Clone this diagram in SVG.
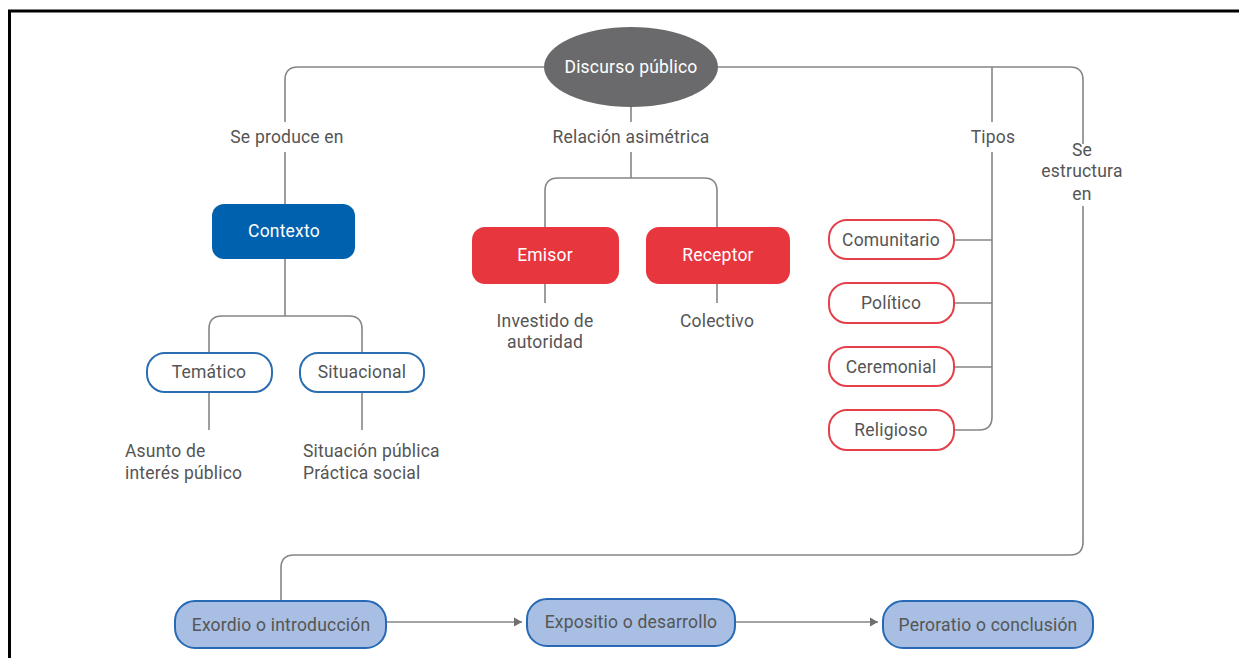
<svg xmlns="http://www.w3.org/2000/svg" width="1239" height="658" viewBox="0 0 1239 658">
<defs>
<marker id="arr" markerWidth="10" markerHeight="10" refX="8" refY="5" orient="auto" markerUnits="userSpaceOnUse">
<path d="M0,0.5 L8,5 L0,9.5 Z" fill="#6f6f6f"/>
</marker>
<style>
text{font-family:Roboto,"Liberation Sans",sans-serif;font-size:17.5px;letter-spacing:0.2px;fill:#555555;}
.c{text-anchor:middle;}
.w{fill:#ffffff;}
.ln{fill:none;stroke:#858585;stroke-width:1.6;}
.blue{fill:#0062ae;}
.red{fill:#e8363f;}
.rbox{fill:#ffffff;stroke:#e5404a;stroke-width:2;}
.bbox{fill:#ffffff;stroke:#2a6db0;stroke-width:2;}
.sbox{fill:#a8bee2;stroke:#2769b5;stroke-width:2;}
</style>
</defs>
<rect width="1239" height="658" fill="#ffffff"/>
<path d="M9.5,660 V11 H1240" fill="none" stroke="#000000" stroke-width="3"/>

<g id="connectors">
<path class="ln" d="M545,67 H298 Q285,67 285,80 V122 M285,152 V204"/>
<path class="ln" d="M718,67 H1070 Q1083,67 1083,80 V144 M1083,206 V542 Q1083,555 1070,555 H294 Q281,555 281,568 V601"/>
<path class="ln" d="M992,67 V122 M992,152 V417 Q992,430 979,430 H954 M954,240 H992 M954,303 H992 M954,367 H992"/>
<path class="ln" d="M631,107 V122 M631,152 V178 M545,227 V191 Q545,178 558,178 H704 Q717,178 717,191 V227"/>
<path class="ln" d="M285,259 V316 M209,353 V329 Q209,316 222,316 H349 Q362,316 362,329 V353"/>
<path class="ln" d="M209,392 V430 M362,392 V430 M545,284 V303 M717,284 V303"/>
<path class="ln" d="M386,622 H522" marker-end="url(#arr)"/>
<path class="ln" d="M735,622 H878" marker-end="url(#arr)"/>
</g>

<g id="labels">
<text class="c" x="287" y="143">Se produce en</text>
<text class="c" x="631" y="143">Relación asimétrica</text>
<text class="c" x="993" y="143">Tipos</text>
<text class="c" x="1082" y="156">Se</text>
<text class="c" x="1082" y="177">estructura</text>
<text class="c" x="1082" y="200">en</text>
<text class="c" x="545" y="327">Investido de</text>
<text class="c" x="545" y="348">autoridad</text>
<text class="c" x="717" y="327">Colectivo</text>
<text x="125" y="457">Asunto de</text>
<text x="125" y="479">interés público</text>
<text x="303" y="457">Situación pública</text>
<text x="303" y="479">Práctica social</text>
</g>

<g id="discurso">
<ellipse cx="631" cy="67" rx="87" ry="40" fill="#6a6a6c"/>
<text class="c w" x="631" y="73">Discurso público</text>
</g>
<g id="contexto">
<rect class="blue" x="212" y="204" width="143" height="55" rx="12"/>
<text class="c w" x="284" y="237">Contexto</text>
</g>
<g id="emisor">
<rect class="red" x="472" y="227" width="147" height="57" rx="13"/>
<text class="c w" x="545" y="261">Emisor</text>
</g>
<g id="receptor">
<rect class="red" x="646" y="227" width="144" height="57" rx="13"/>
<text class="c w" x="718" y="261">Receptor</text>
</g>
<g id="tematico">
<rect class="bbox" x="147" y="353" width="125" height="39" rx="18"/>
<text class="c" x="209" y="378">Temático</text>
</g>
<g id="situacional">
<rect class="bbox" x="300" y="353" width="124" height="39" rx="18"/>
<text class="c" x="362" y="378">Situacional</text>
</g>
<g id="comunitario">
<rect class="rbox" x="829" y="220" width="125" height="39" rx="18"/>
<text class="c" x="891" y="246">Comunitario</text>
</g>
<g id="politico">
<rect class="rbox" x="829" y="283" width="125" height="40" rx="18"/>
<text class="c" x="891" y="309">Político</text>
</g>
<g id="ceremonial">
<rect class="rbox" x="829" y="347" width="125" height="39" rx="18"/>
<text class="c" x="891" y="373">Ceremonial</text>
</g>
<g id="religioso">
<rect class="rbox" x="829" y="410" width="125" height="40" rx="18"/>
<text class="c" x="891" y="436">Religioso</text>
</g>
<g id="exordio">
<rect class="sbox" x="175" y="601" width="211" height="47" rx="20"/>
<text class="c" x="281" y="631">Exordio o introducción</text>
</g>
<g id="expositio">
<rect class="sbox" x="527" y="599" width="208" height="47" rx="20"/>
<text class="c" x="631" y="628">Expositio o desarrollo</text>
</g>
<g id="peroratio">
<rect class="sbox" x="883" y="601" width="210" height="47" rx="20"/>
<text class="c" x="988" y="631">Peroratio o conclusión</text>
</g>
</svg>
